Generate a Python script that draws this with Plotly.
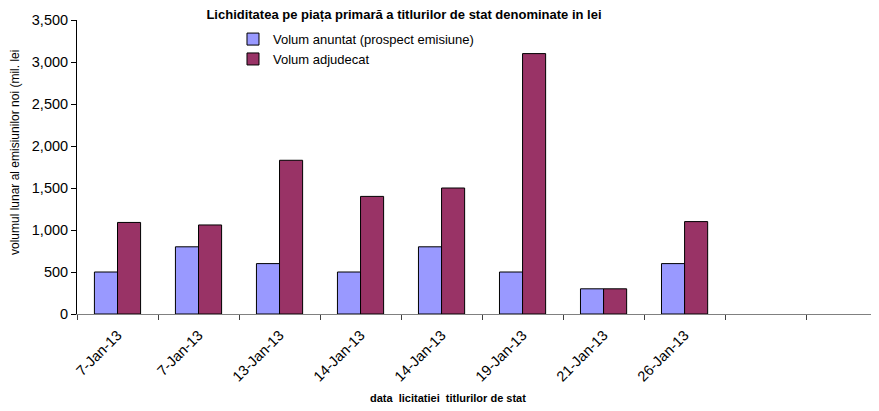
import plotly.graph_objects as go

# auction dates (two trailing empty slots as in the source sheet)
dates = ["7-Jan-13", "7-Jan-13 ", "13-Jan-13", "14-Jan-13", "14-Jan-13 ",
         "19-Jan-13", "21-Jan-13", "26-Jan-13", "  ", "   "]
announced = [500, 800, 600, 500, 800, 500, 300, 600, None, None]
awarded = [1090, 1060, 1830, 1400, 1500, 3100, 300, 1100, None, None]
tick_text = ["7-Jan-13", "7-Jan-13", "13-Jan-13", "14-Jan-13", "14-Jan-13",
             "19-Jan-13", "21-Jan-13", "26-Jan-13", "", ""]

FONT = "Liberation Sans, Arial, sans-serif"

fig = go.Figure([
    go.Bar(name="Volum anuntat (prospect emisiune)", x=dates, y=announced,
           marker=dict(color="#9999FF", line=dict(color="#000000", width=1))),
    go.Bar(name="Volum adjudecat", x=dates, y=awarded,
           marker=dict(color="#993366", line=dict(color="#000000", width=1))),
])

# the page body adds an 8px offset, so margins are shifted to compensate
fig.update_layout(
    width=879, height=411,
    barmode="group", bargap=0.43, bargroupgap=0,
    plot_bgcolor="white", paper_bgcolor="white",
    font=dict(family=FONT, size=12, color="#000000"),
    margin=dict(l=69, r=8, t=12, b=105, autoexpand=False),
    title=dict(text="<b>Lichiditatea pe piața primară a titlurilor de stat denominate in lei</b>",
               x=0.4505, xanchor="center", y=0.985, yanchor="middle",
               font=dict(size=13)),
    legend=dict(x=0.1945, y=0.986, xanchor="left", yanchor="top",
                bgcolor="rgba(0,0,0,0)", font=dict(size=13),
                itemwidth=30, tracegroupgap=0),
    xaxis=dict(
        tickmode="array", tickvals=dates, ticktext=tick_text,
        tickangle=-45, tickfont=dict(size=14.5), ticklabelstandoff=6,
        range=[-0.5, 9.4], tickson="boundaries", automargin=False,
        ticks="outside", ticklen=5, tickcolor="#404040",
        showline=True, linecolor="#808080", linewidth=1, showgrid=False,
    ),
    yaxis=dict(
        range=[0, 3500], dtick=500, tickformat=",", automargin=False,
        ticks="outside", ticklen=5, tickcolor="#000000",
        showline=True, linecolor="#000000", linewidth=1,
        showgrid=False, zeroline=False, tickfont=dict(size=14.5),
    ),
    annotations=[
        dict(text="<b>data  licitatiei  titlurilor de stat</b>",
             xref="paper", yref="paper", x=0.4626, y=-0.286,
             xanchor="center", yanchor="middle", showarrow=False,
             font=dict(size=11)),
        dict(text="volumul lunar al emisiunilor noi (mil. lei",
             xref="paper", yref="paper", x=-0.0773, y=0.5476,
             xanchor="center", yanchor="middle", textangle=-90,
             showarrow=False, font=dict(size=12)),
    ],
)

fig.write_html("out.html")
